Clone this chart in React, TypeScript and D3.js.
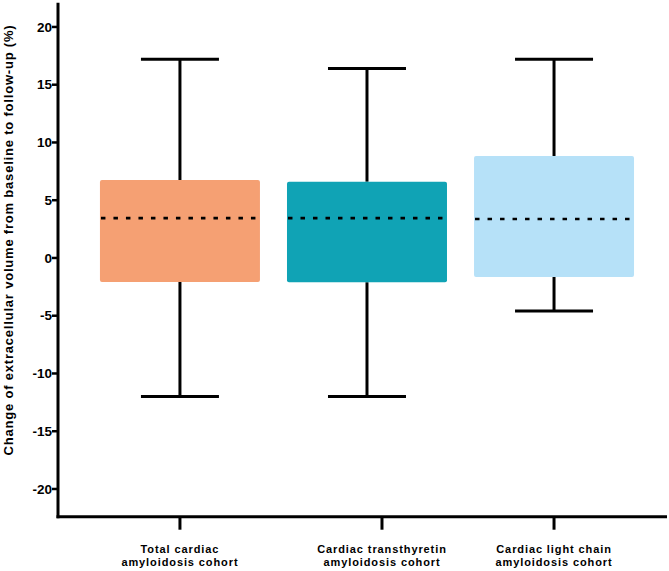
import React from "react";
import * as d3 from "d3";

const categories = ["Total cardiac|amyloidosis cohort", "Cardiac transthyretin|amyloidosis cohort", "Cardiac light chain|amyloidosis cohort"];
const whiskerLow = [-12.0, -12.0, -4.6];
const q1 = [-2.08, -2.1, -1.65];
const medians = [3.45, 3.45, 3.38];
const q3 = [6.75, 6.6, 8.83];
const whiskerHigh = [17.2, 16.4, 17.2];
const colors = ["#F5A073", "#10A3B5", "#B6E1F8"];
const yTicks = [-20, -15, -10, -5, 0, 5, 10, 15, 20];
const yLabel = "Change of extracellular volume from baseline to follow-up (%)";

const W = 669;
const H = 571;
const labelOffsets = [0, 15, 0];

export default function App() {
  const y = d3.scaleLinear().domain([-22.4, 22.1]).range([516.7, 2.7]);
  const x = d3.scaleLinear().domain([-0.652, 2.604]).range([58, 667]);
  const boxW = 160;
  const capW = 78;
  const axisY = y(-22.4);
  const axisX = x(-0.652);
  const font = "'Liberation Sans', Arial, Helvetica, sans-serif";

  return (
    <div style={{ position: "absolute", left: 0, top: 0 }}>
      <svg width={W} height={H} style={{ display: "block", background: "#fff" }}>
        {categories.map((c, i) => {
          const cx = x(i);
          return (
            <g key={c}>
              <line x1={cx} x2={cx} y1={y(whiskerHigh[i])} y2={y(q3[i])} stroke="#000" strokeWidth={3} />
              <line x1={cx} x2={cx} y1={y(q1[i])} y2={y(whiskerLow[i])} stroke="#000" strokeWidth={3} />
              <line x1={cx - capW / 2} x2={cx + capW / 2} y1={y(whiskerHigh[i])} y2={y(whiskerHigh[i])} stroke="#000" strokeWidth={3} />
              <line x1={cx - capW / 2} x2={cx + capW / 2} y1={y(whiskerLow[i])} y2={y(whiskerLow[i])} stroke="#000" strokeWidth={3} />
              <rect x={cx - boxW / 2} y={y(q3[i])} width={boxW} height={y(q1[i]) - y(q3[i])} fill={colors[i]} rx={2} />
              <line x1={cx - boxW / 2 + 1} x2={cx + boxW / 2 - 3} y1={y(medians[i])} y2={y(medians[i])} stroke="#000" strokeWidth={2.6} strokeDasharray="4.5 8" />
            </g>
          );
        })}
        {/* y axis */}
        <line x1={axisX} x2={axisX} y1={y(22.1)} y2={axisY + 1.5} stroke="#000" strokeWidth={3} />
        {yTicks.map((t) => (
          <g key={t}>
            <line x1={axisX - 6} x2={axisX} y1={y(t)} y2={y(t)} stroke="#000" strokeWidth={2.5} />
            <text x={axisX - 6} y={y(t)} dy="0.35em" textAnchor="end" fontFamily={font} fontWeight="bold" fontSize={13.5} fill="#000">
              {t}
            </text>
          </g>
        ))}
        {/* x axis */}
        <line x1={axisX - 1.5} x2={667} y1={axisY} y2={axisY} stroke="#000" strokeWidth={3} />
        {categories.map((c, i) => {
          const tx = x(i) + labelOffsets[i];
          const lines = c.split("|");
          return (
            <g key={"t" + c}>
              <line x1={tx} x2={tx} y1={axisY} y2={axisY + 13} stroke="#000" strokeWidth={3} />
              {lines.map((l, k) => (
                <text key={k} x={tx} y={553 + k * 13} textAnchor="middle" fontFamily={font} fontWeight="bold" fontSize={11} letterSpacing={0.9} fill="#000">
                  {l}
                </text>
              ))}
            </g>
          );
        })}
        <text transform={`translate(12.5, 240) rotate(-90)`} textAnchor="middle" fontFamily={font} fontWeight="bold" fontSize={13} letterSpacing={0.8} fill="#000">
          {yLabel}
        </text>
      </svg>
    </div>
  );
}
